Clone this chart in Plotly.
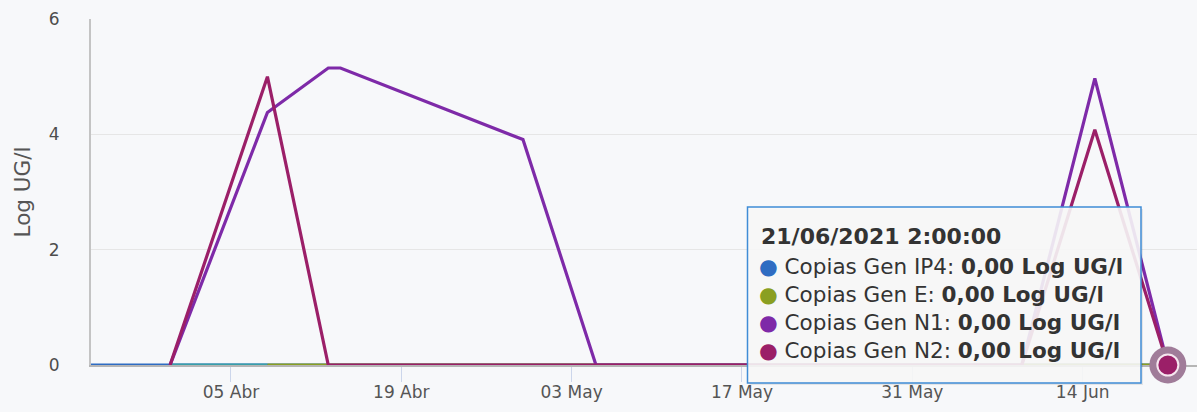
import plotly.graph_objects as go

# ---- data ----
dates = ["2021-03-24 12:00", "2021-03-31", "2021-04-08", "2021-04-13", "2021-04-14",
         "2021-04-29", "2021-05-05", "2021-06-09", "2021-06-15", "2021-06-21"]
ip4 = [0, 0, 0, 0, 0, 0, 0, 0, 0, 0]
gen_e = [None, 0, 0, 0, 0, 0, 0, 0, 0, 0]
n1 = [None, 0, 4.38, 5.15, 5.15, 3.91, 0, 0, 4.97, 0]
n2 = [None, 0, 5.0, 0, 0, 0, 0, 0, 4.08, 0]
series_names = ["Copias Gen IP4", "Copias Gen E", "Copias Gen N1", "Copias Gen N2"]
tick_dates = ["2021-04-05", "2021-04-19", "2021-05-03", "2021-05-17", "2021-05-31", "2021-06-14"]
tick_labels = ["05 Abr", "19 Abr", "03 May", "17 May", "31 May", "14 Jun"]
y_ticks = [0, 2, 4, 6]
tooltip_title = "21/06/2021 2:00:00"
unit = "Log UG/l"
e_zone_end = 2  # index where E colour zone changes

colors = ["#2f6cc2", "#8a9f22", "#7e2aa8", "#9b1f68"]
teal = "#3a9fa8"

W, H = 1197, 412
L, R, T, B = 91, 0, 19, 47
pw, ph = W - L - R, H - T - B


def px(x):
    return (x - L) / pw


def py(y):
    return (H - B - y) / ph


fig = go.Figure()
lw = 3.2
fig.add_trace(go.Scatter(x=dates, y=ip4, mode="lines", line=dict(color=colors[0], width=lw),
                         cliponaxis=False, name=series_names[0]))
fig.add_trace(go.Scatter(x=dates[:e_zone_end + 1], y=gen_e[:e_zone_end + 1], mode="lines",
                         line=dict(color=teal, width=lw), cliponaxis=False, name=series_names[1]))
fig.add_trace(go.Scatter(x=dates[e_zone_end:], y=gen_e[e_zone_end:], mode="lines",
                         line=dict(color=colors[1], width=lw), cliponaxis=False, name=series_names[1]))
fig.add_trace(go.Scatter(x=dates, y=n1, mode="lines", line=dict(color=colors[2], width=lw),
                         cliponaxis=False, name=series_names[2]))
fig.add_trace(go.Scatter(x=dates, y=n2, mode="lines", line=dict(color=colors[3], width=lw),
                         cliponaxis=False, name=series_names[3]))
# hovered point marker with halo
fig.add_trace(go.Scatter(x=[dates[-1]], y=[n2[-1]], mode="markers",
                         marker=dict(size=37, color="#a07c99", line=dict(width=0)),
                         cliponaxis=False))
fig.add_trace(go.Scatter(x=[dates[-1]], y=[n2[-1]], mode="markers",
                         marker=dict(size=21, color=colors[3], line=dict(width=2, color="#f6e6ef")),
                         cliponaxis=False))

font = "DejaVu Sans"
fig.update_layout(
    width=W, height=H,
    margin=dict(l=L, r=R, t=T, b=B, autoexpand=False),
    paper_bgcolor="#f7f8fa", plot_bgcolor="#f7f8fa",
    showlegend=False,
    hovermode=False,
    xaxis=dict(
        type="date",
        range=["2021-03-24 12:00", "2021-06-23 09:30"],
        tickvals=tick_dates, ticktext=tick_labels,
        showgrid=False, zeroline=False,
        showline=True, linecolor="#b5b5b5", linewidth=2,
        ticks="outside", ticklen=15, tickcolor="#ccd6eb", tickwidth=1,
        ticklabelstandoff=-4,
        tickfont=dict(family=font, size=17, color="#555555"),
        layer="below traces", automargin=False,
    ),
    yaxis=dict(
        range=[0, 6], tickvals=y_ticks,
        showgrid=True, gridcolor="#e6e6e6", gridwidth=1,
        zeroline=False,
        showline=True, linecolor="#c4c4c4", linewidth=2,
        ticks="", ticklabelstandoff=26,
        tickfont=dict(family=font, size=17, color="#4d4d4d"),
        title=dict(text=unit, font=dict(family=font, size=21.5, color="#555555"), standoff=12),
        layer="below traces", automargin=False,
    ),
)

# tooltip box
x0, x1, y0, y1 = 747.5, 1141, 207, 383
fig.add_shape(type="rect", xref="paper", yref="paper",
              x0=px(x0 + 2), x1=px(x1 + 2), y0=py(y1 + 2), y1=py(y0 + 2),
              fillcolor="rgba(0,0,0,0.08)", line=dict(width=0), layer="above")
fig.add_shape(type="rect", xref="paper", yref="paper",
              x0=px(x0), x1=px(x1), y0=py(y1), y1=py(y0),
              fillcolor="rgba(248,248,248,0.9)", line=dict(color="#3f8cd6", width=1.5), layer="above")

fig.add_annotation(xref="paper", yref="paper", x=px(759), y=py(236), xanchor="left", yanchor="middle",
                   text="<b>" + tooltip_title + "</b>", showarrow=False,
                   font=dict(family=font, size=22, color="#333333"))
last_vals = [ip4[-1], gen_e[-1], n1[-1], n2[-1]]
for i, (nm, c, v) in enumerate(zip(series_names, colors, last_vals)):
    val = f"{v:.2f}".replace(".", ",")
    fig.add_annotation(xref="paper", yref="paper", x=px(757), y=py(266 + 28 * i),
                       xanchor="left", yanchor="middle", showarrow=False,
                       text=f"<span style='color:{c}'>●</span> {nm}: <b>{val} {unit}</b>",
                       font=dict(family=font, size=21.5, color="#333333"))

fig.write_html("out.html", config={"displayModeBar": False},
               post_script="document.body.style.margin='0';document.body.style.overflow='hidden';")
